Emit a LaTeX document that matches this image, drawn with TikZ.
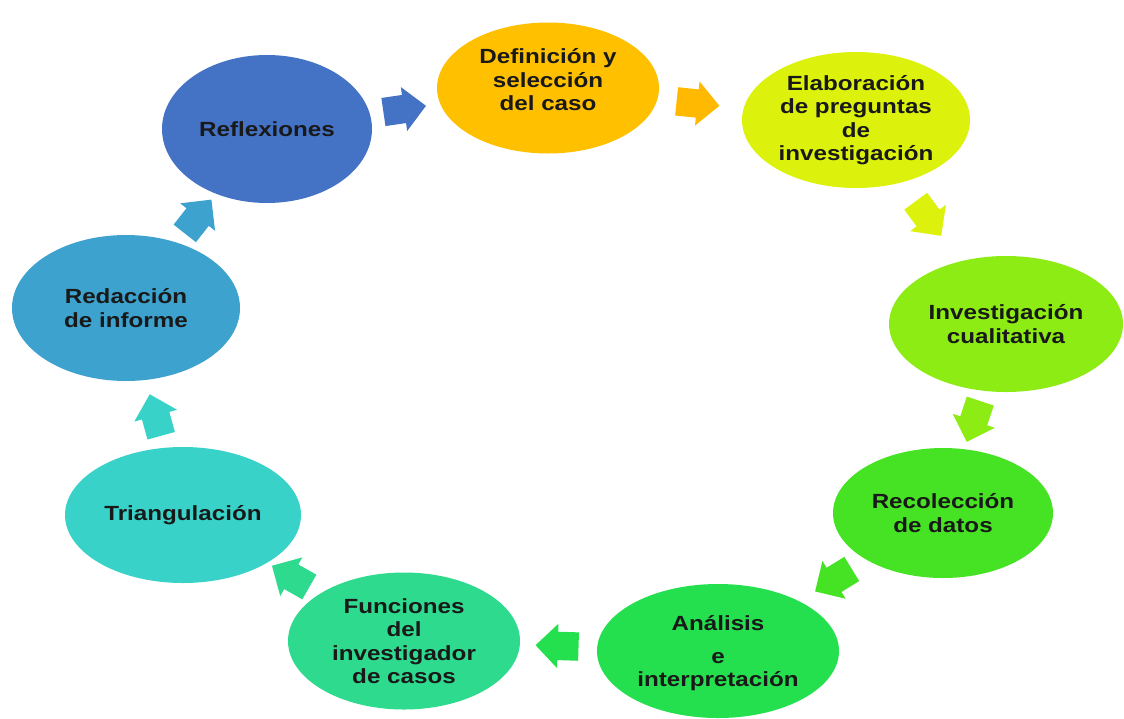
\documentclass[tikz,border=0pt]{standalone}
\usepackage{fontspec}
\setmainfont{Liberation Sans}[FakeStretch=1.18]
\usetikzlibrary{shapes.geometric,shapes.arrows}
\definecolor{cDef}{HTML}{FFC000}
\definecolor{cDefA}{HTML}{FFB900}
\definecolor{cElab}{HTML}{DCF20C}
\definecolor{cInv}{HTML}{8CEC14}
\definecolor{cRec}{HTML}{46E224}
\definecolor{cAna}{HTML}{24E04E}
\definecolor{cFun}{HTML}{2EDA8E}
\definecolor{cTri}{HTML}{38D2C8}
\definecolor{cRed}{HTML}{3DA2CE}
\definecolor{cRef}{HTML}{4472C4}
\tikzset{
  bubble/.style={ellipse, draw=none, fill=#1, align=center, inner sep=0pt,
    text=black!90, font=\fontsize{20.5}{23.5}\selectfont\bfseries},
  blockarr/.style={single arrow, draw=none, fill=#1, inner xsep=4pt, inner ysep=14pt,
    minimum height=43pt, single arrow head extend=8pt,
    sloped, allow upside down},
}
\begin{document}
\begin{tikzpicture}[x=1pt,y=-1pt]
\fill[white] (0,0) rectangle (1124,718);
\useasboundingbox (0,0) rectangle (1124,718);

\node[bubble=cDef, minimum width=222pt, minimum height=131pt, text depth=17pt] (def) at (548,88) {Definición y\\selección\\del caso};
\node[bubble=cElab, minimum width=228pt, minimum height=136pt] (elab) at (856,120) {Elaboración\\de preguntas\\de\\investigación};
\node[bubble=cInv, minimum width=234pt, minimum height=136pt] (inv) at (1006,324) {Investigación\\cualitativa};
\node[bubble=cRec, minimum width=220pt, minimum height=130pt] (rec) at (943,513) {Recolección\\de datos};
\node[bubble=cAna, minimum width=242pt, minimum height=134pt, text depth=0pt] (ana) at (718,651) {Análisis\\[9pt]e\\interpretación};
\node[bubble=cFun, minimum width=232pt, minimum height=137pt] (fun) at (404,641) {Funciones\\del\\investigador\\de casos};
\node[bubble=cTri, minimum width=236pt, minimum height=136pt] (tri) at (183,515) {Triangulación};
\node[bubble=cRed, minimum width=228pt, minimum height=146pt] (red) at (126,308) {Redacción\\de informe};
\node[bubble=cRef, minimum width=210pt, minimum height=148pt] (ref) at (267,129) {Reflexiones};

\path (ref.center) -- (def.center) node[blockarr=cRef, pos=0.465] (a1) {};
\path (def.center) -- (elab.center) node[blockarr=cDefA, pos=0.464] (a2) {};
\path (elab.center) -- (inv.center) node[blockarr=cElab, pos=0.455] (a3) {};
\path (inv.center) -- (rec.center) node[blockarr=cInv, pos=0.48] (a4) {};
\path (rec.center) -- (ana.center) node[blockarr=cRec, pos=0.46] (a5) {};
\path (ana.center) -- (fun.center) node[blockarr=cAna, pos=0.49] (a6) {};
\path (fun.center) -- (tri.center) node[blockarr=cFun, pos=0.485] (a7) {};
\path (tri.center) -- (red.center) node[blockarr=cTri, pos=0.45] (a8) {};
\path (red.center) -- (ref.center) node[blockarr=cRed, pos=0.48] (a9) {};
\end{tikzpicture}
\end{document}
